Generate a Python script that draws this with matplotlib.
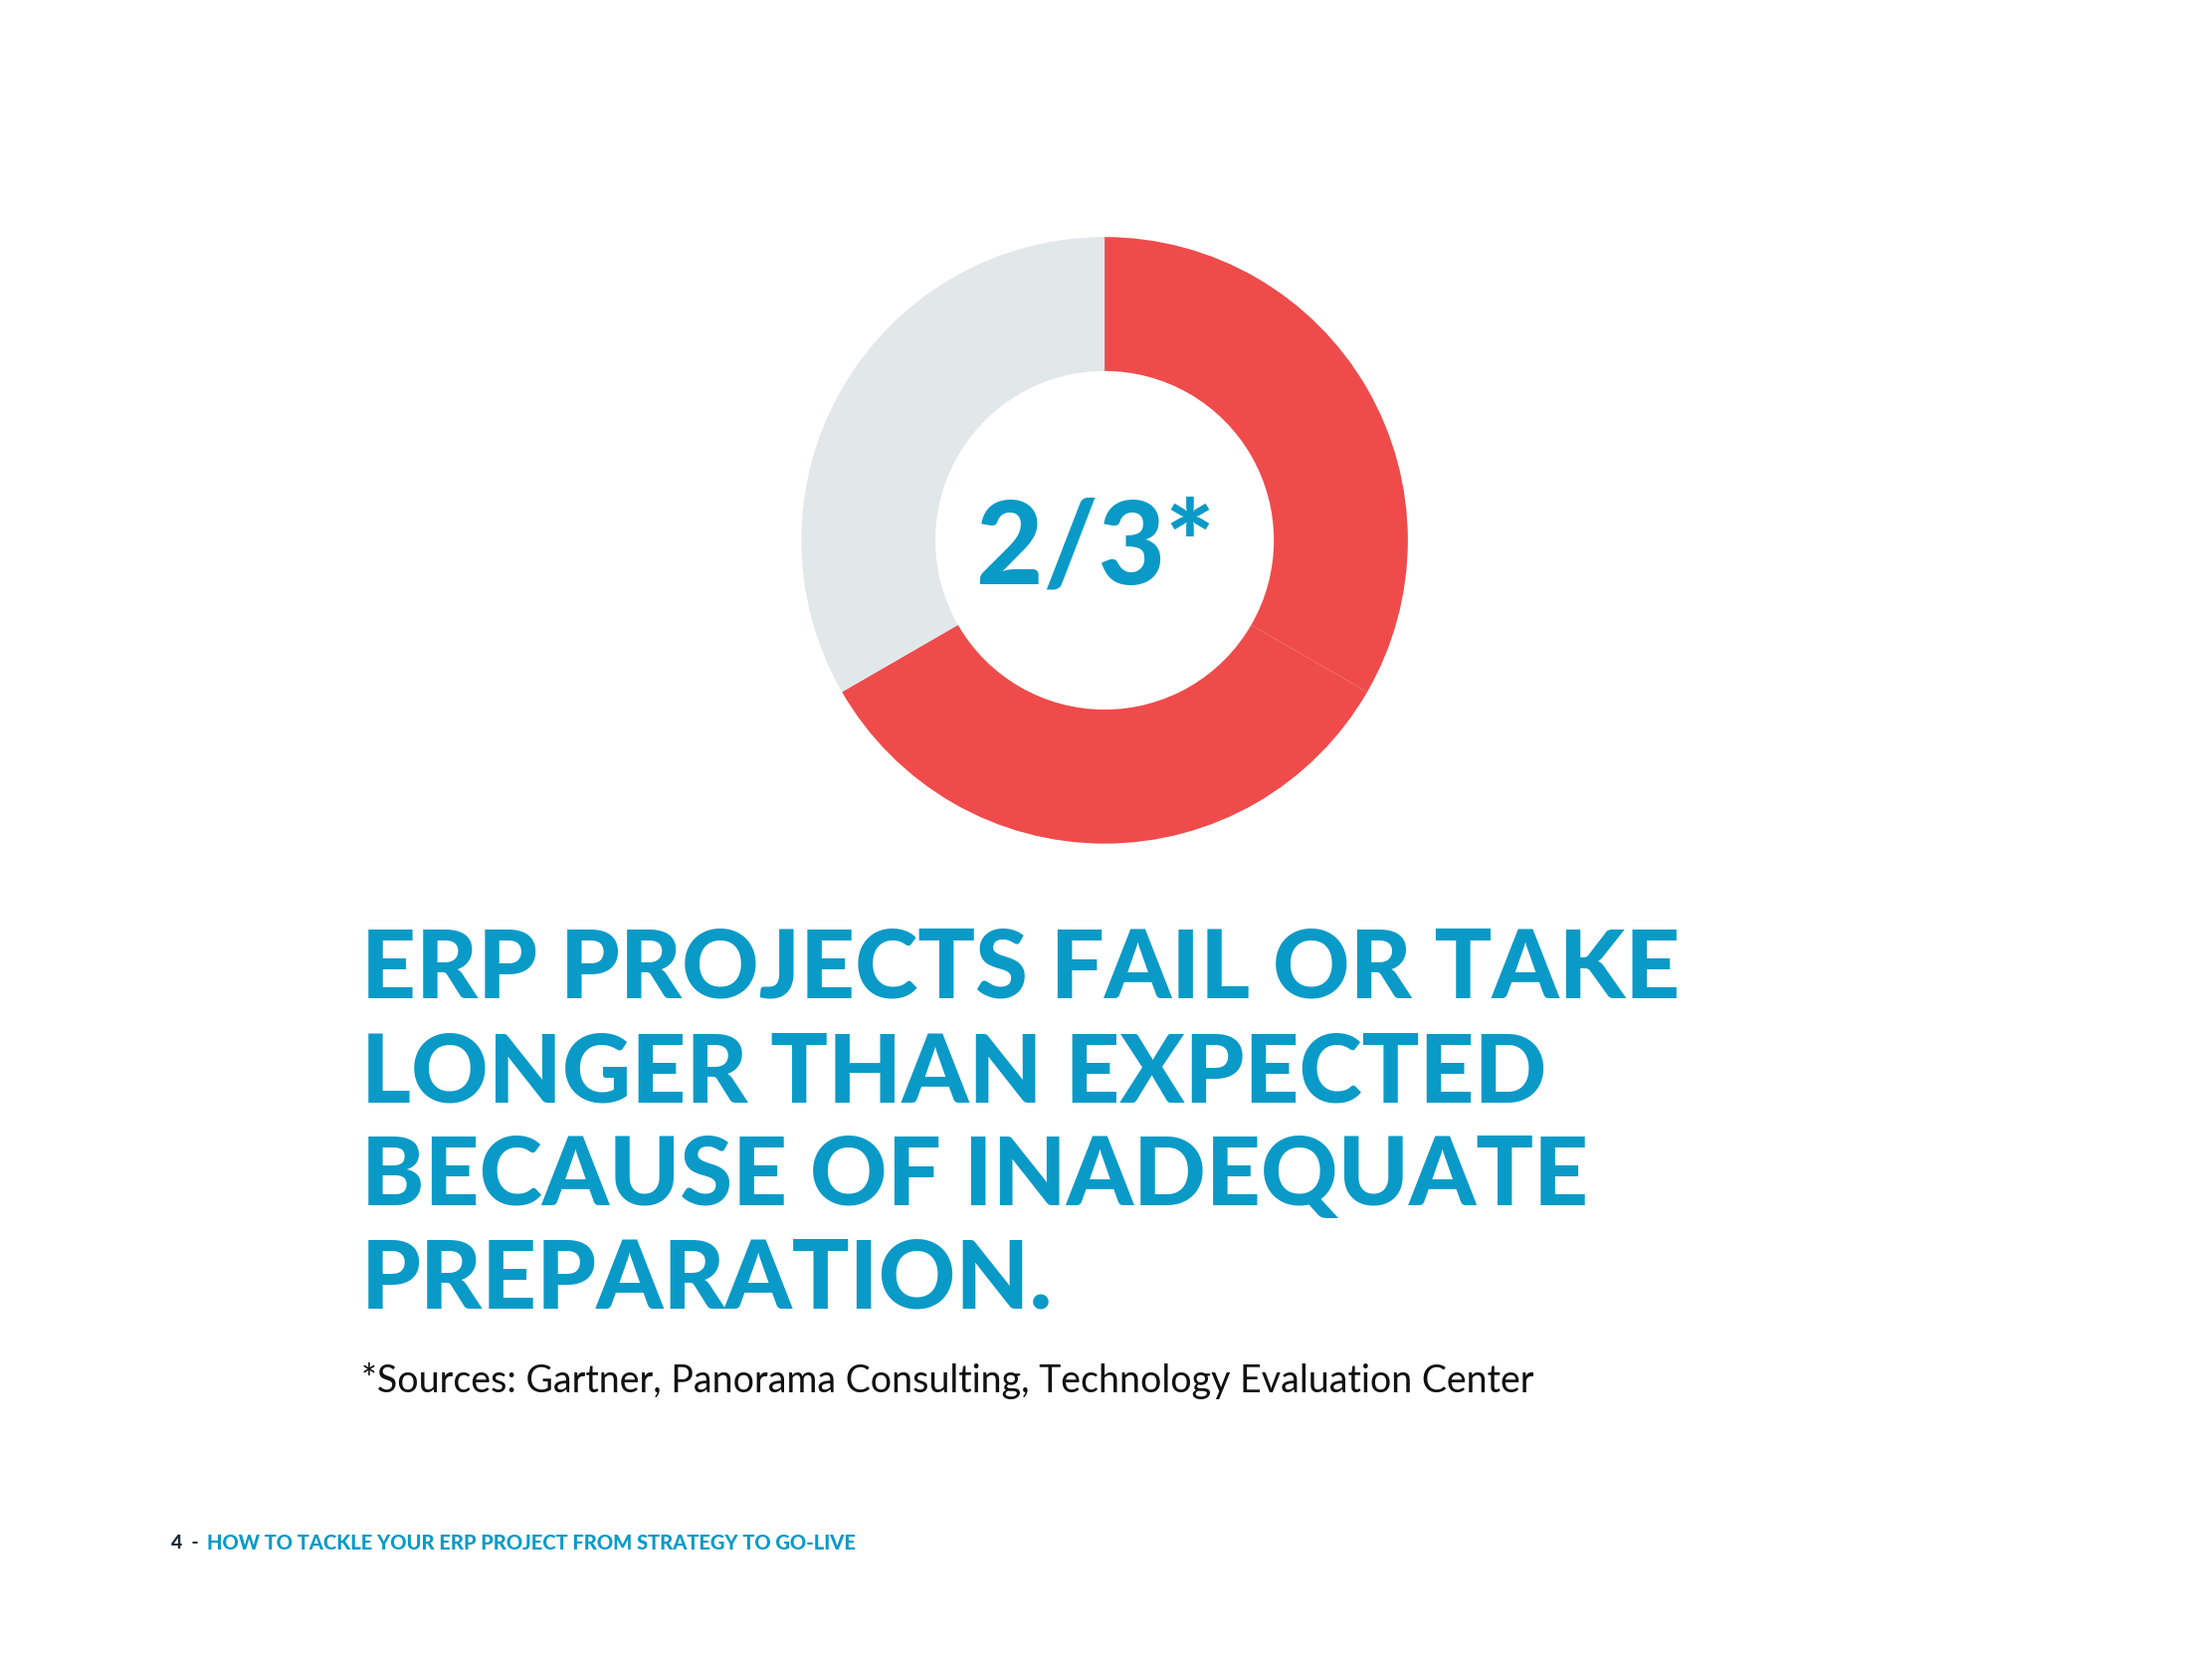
import matplotlib
matplotlib.use("Agg")
import matplotlib.pyplot as plt

shares = [1/3, 1/3, 1/3]
colors = ["#EF4B4B", "#EF4B4B", "#E2E7E9"]
center_label = "2/3*"
headline = ["ERP PROJECTS FAIL OR TAKE", "LONGER THAN EXPECTED",
            "BECAUSE OF INADEQUATE", "PREPARATION."]
source = "*Sources: Gartner, Panorama Consulting, Technology Evaluation Center"
footer_num = "4  - "
footer_txt = "HOW TO TACKLE YOUR ERP PROJECT FROM STRATEGY TO GO-LIVE"

W, H = 1568, 1176
fig = plt.figure(figsize=(22.23, 16.67), dpi=100)
blue = "#0A9AC7"

cx, cy, r = 783, 383, 215
ax = fig.add_axes([(cx - r)/W, 1 - (cy + r)/H, 2*r/W, 2*r/H])
ax.pie(shares, colors=colors, startangle=90, counterclock=False,
       wedgeprops=dict(width=95/215, linewidth=0))
ax.set_xlim(-1, 1)
ax.set_ylim(-1, 1)
ax.set_aspect("equal")
ax.text(-0.03, -0.03, center_label, ha="center", va="center", fontsize=84,
        fontweight="black", color=blue, family="Lato")

ys = [688, 762, 835, 908]
for y, line in zip(ys, headline):
    fig.text(256/W, 1 - y/H, line, ha="left", va="center", fontsize=69,
             fontweight="black", color=blue, family="Lato")
fig.text(256/W, 1 - 979/H, source, ha="left", va="center", fontsize=27,
         fontweight="normal", color="#111111", family="Lato")
fig.text(121/W, 1 - 1094/H, footer_num, ha="left", va="center", fontsize=14,
         fontweight="black", color="#1B2A3A", family="Lato")
fig.text(147/W, 1 - 1094/H, footer_txt, ha="left", va="center", fontsize=14.5,
         fontweight="black", color=blue, family="Lato")
fig.savefig("out.png", dpi=100, facecolor="white")
